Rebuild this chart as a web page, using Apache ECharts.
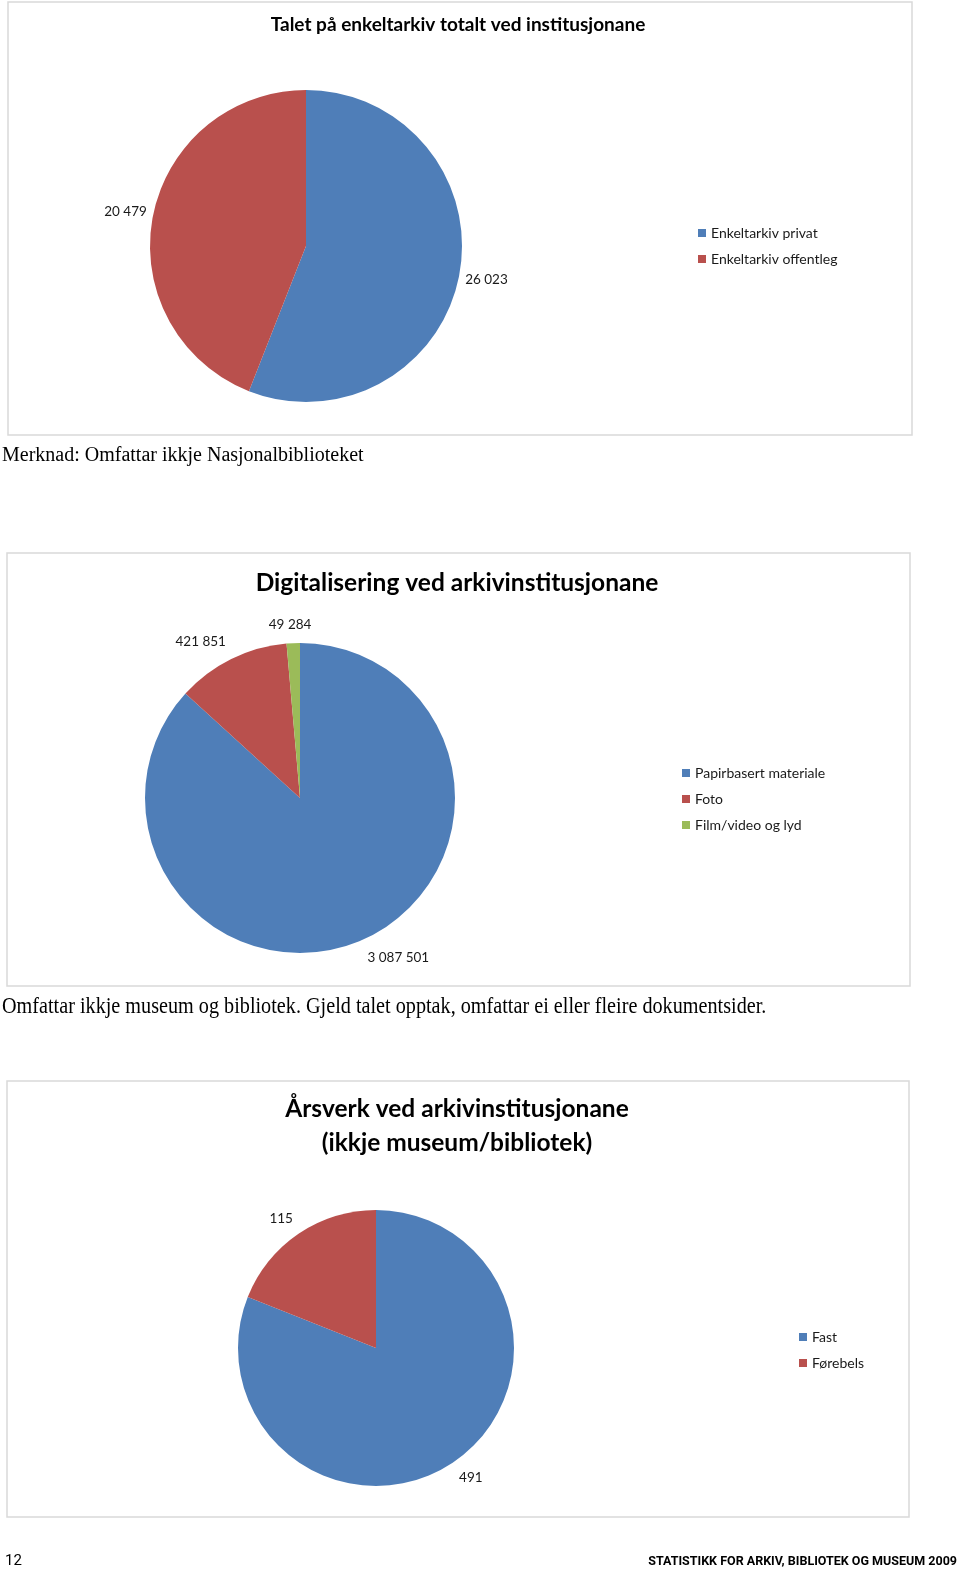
<!DOCTYPE html>
<html>
<head>
<meta charset="utf-8">
<script src="https://cdn.jsdelivr.net/npm/echarts@6/dist/echarts.min.js"></script>
<style>
html,body{margin:0;padding:0;background:#fff;}
#c{width:960px;height:1570px;}
</style>
</head>
<body>
<div id="c"></div>
<script>
// ---- Data ----
var chart1Title = 'Talet på enkeltarkiv totalt ved institusjonane';
var chart1Names = ['Enkeltarkiv privat', 'Enkeltarkiv offentleg'];
var chart1Values = [26023, 20479];
var chart1Note = 'Merknad: Omfattar ikkje Nasjonalbiblioteket';

var chart2Title = 'Digitalisering ved arkivinstitusjonane';
var chart2Names = ['Papirbasert materiale', 'Foto', 'Film/video og lyd'];
var chart2Values = [3087501, 421851, 49284];
var chart2Note = 'Omfattar ikkje museum og bibliotek. Gjeld talet opptak, omfattar ei eller fleire dokumentsider.';

var chart3TitleLines = ['Årsverk ved arkivinstitusjonane', '(ikkje museum/bibliotek)'];
var chart3Names = ['Fast', 'Førebels'];
var chart3Values = [491, 115];

var pageNumber = '12';
var footerText = 'STATISTIKK FOR ARKIV, BIBLIOTEK OG MUSEUM 2009';

// ---- Styles ----
var BLUE = '#4F7EB8', RED = '#B9504D', GREEN = '#9BBB59';
var SANS = 'Lato, "Open Sans", sans-serif';
var SERIF = '"Liberation Serif", "DejaVu Serif", serif';

function fmt(v) {
  return String(v).replace(/\B(?=(\d{3})+(?!\d))/g, ' ');
}

function toData(names, values) {
  return names.map(function (n, i) { return { name: n, value: values[i] }; });
}

function clamp1(v) { return Math.max(-1, Math.min(1, v)); }

// Excel-like "best fit": the label box touches a point just outside the slice
// on its mid-angle ray, and sits on the outward side of that point.
function bestFit(gap) {
  return function (p) {
    var pts = p.labelLinePoints;
    if (!pts || pts.length < 2) return {};
    var dx = pts[1][0] - pts[0][0], dy = pts[1][1] - pts[0][1];
    var L = Math.sqrt(dx * dx + dy * dy) || 1;
    var ux = dx / L, uy = dy / L;
    var w = p.labelRect.width, h = p.labelRect.height;
    var px = pts[0][0] + ux * gap, py = pts[0][1] + uy * gap;
    return {
      x: px + clamp1(ux / 0.35) * w / 2,
      y: py + clamp1(uy / 0.35) * h / 2,
      align: 'center',
      verticalAlign: 'middle'
    };
  };
}

function pieSeries(data, colors, center, radius, gap) {
  return {
    type: 'pie',
    center: center,
    radius: radius,
    startAngle: 90,
    clockwise: true,
    avoidLabelOverlap: false,
    animation: false,
    silent: true,
    data: data,
    color: colors,
    itemStyle: { borderWidth: 0 },
    label: {
      show: true,
      position: 'outside',
      formatter: function (p) { return fmt(p.value); },
      fontFamily: SANS,
      fontSize: 13.5,
      color: '#1a1a1a'
    },
    labelLine: { show: true, length: 10, length2: 6, lineStyle: { opacity: 0 } },
    labelLayout: bestFit(gap),
    emphasis: { disabled: true }
  };
}

function legend(names, left, top) {
  return {
    orient: 'vertical',
    left: left,
    top: top,
    data: names,
    icon: 'rect',
    itemWidth: 8,
    itemHeight: 8,
    itemGap: 12,
    selectedMode: false,
    padding: 0,
    textStyle: { fontFamily: SANS, fontSize: 14, color: '#1a1a1a' }
  };
}

function box(x, y, w, h) {
  return {
    type: 'rect',
    shape: { x: x, y: y, width: w, height: h },
    style: { fill: 'none', stroke: '#d9d9d9', lineWidth: 1.5 },
    silent: true
  };
}

function txt(text, x, y, font, align, extra) {
  var o = {
    type: 'text',
    x: x, y: y,
    silent: true,
    style: {
      text: text,
      font: font,
      fill: '#000',
      align: align || 'left',
      verticalAlign: 'middle'
    }
  };
  if (extra) for (var k in extra) o[k] = extra[k];
  return o;
}

var chart = echarts.init(document.getElementById('c'), null, { renderer: 'canvas' });

chart.setOption({
  backgroundColor: '#fff',
  animation: false,
  legend: [
    legend(chart1Names, 698, 226),
    legend(chart2Names, 682, 766),
    legend(chart3Names, 799, 1330)
  ],
  graphic: [
    box(8, 2, 904, 433),
    box(7, 553, 903, 433),
    box(7, 1081, 902, 436),
    txt(chart1Title, 458, 25, 'bold 19px ' + SANS, 'center'),
    txt(chart2Title, 457, 583, 'bold 24.5px ' + SANS, 'center'),
    txt(chart3TitleLines[0], 457, 1109, 'bold 24.5px ' + SANS, 'center'),
    txt(chart3TitleLines[1], 457, 1143, 'bold 24.5px ' + SANS, 'center'),
    txt(chart1Note, 2, 456, '20px ' + SERIF, 'left'),
    txt(chart2Note, 2, 1007, '23px ' + SERIF, 'left', { scaleX: 0.878 }),
    txt(pageNumber, 5, 1561, '15px Roboto, sans-serif', 'left'),
    txt(footerText, 957, 1562, 'bold 12.5px Roboto, sans-serif', 'right')
  ],
  series: [
    pieSeries(toData(chart1Names, chart1Values), [BLUE, RED], [306, 246], 156, 6),
    pieSeries(toData(chart2Names, chart2Values), [BLUE, RED, GREEN], [300, 798], 155, 12),
    pieSeries(toData(chart3Names, chart3Values), [BLUE, RED], [376, 1348], 138, 10)
  ]
});
</script>
</body>
</html>
